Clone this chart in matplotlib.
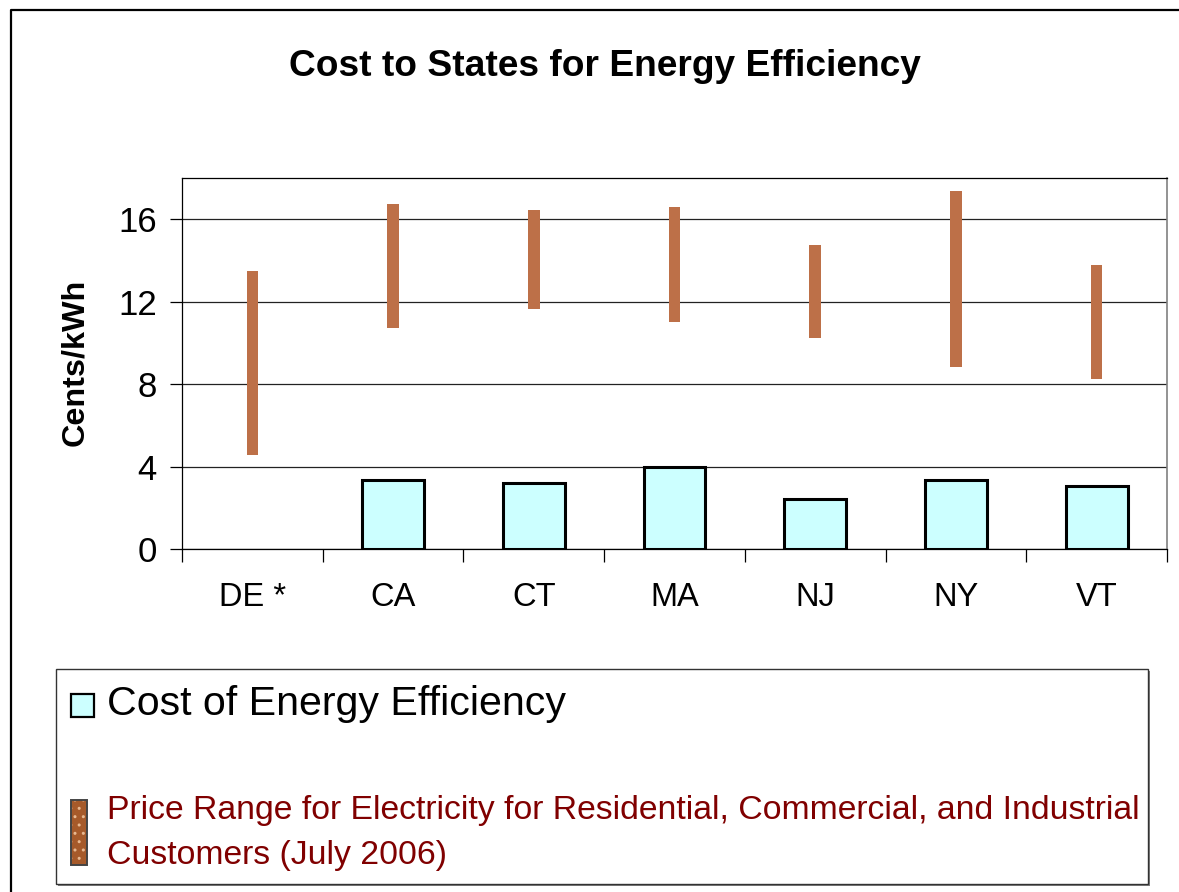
import numpy as np
import matplotlib
matplotlib.use("Agg")
import matplotlib.pyplot as plt
from matplotlib.patches import Rectangle
from matplotlib.lines import Line2D

# chart data
states = ["DE *", "CA", "CT", "MA", "NJ", "NY", "VT"]
ee_cost = [np.nan, 3.35, 3.2, 4.0, 2.45, 3.35, 3.05]
price_low = [4.55, 10.7, 11.65, 11.0, 10.25, 8.85, 8.25]
price_high = [13.5, 16.75, 16.45, 16.6, 14.75, 17.35, 13.8]
y_ticks = [0, 4, 8, 12, 16]

title = "Cost to States for Energy Efficiency"
y_label = "Cents/kWh"
legend_cost = "Cost of Energy Efficiency"
legend_price = ["Price Range for Electricity for Residential, Commercial, and Industrial",
                "Customers (July 2006)"]

W, H = 1179, 892
plt.rcParams["font.family"] = ["Liberation Sans", "DejaVu Sans"]


def fx(px):
    return px / W


def fy(py):
    return 1 - py / H


fig = plt.figure(figsize=(W / 100, H / 100), dpi=100)
fig.patch.set_facecolor("white")

# outer chart frame (only top and left visible)
fig.add_artist(Line2D([fx(11), fx(11), fx(W + 5)], [fy(H + 5), fy(10), fy(10)],
                      transform=fig.transFigure, color="black", lw=1.6))

ax = fig.add_axes([fx(182), fy(549), fx(1167) - fx(182), (549 - 178) / H])

x = np.arange(len(states))
cost = np.array(ee_cost)
has = ~np.isnan(cost)
ax.bar(x[has], cost[has], width=0.44, color="#CCFFFF", edgecolor="black",
       linewidth=2.2, zorder=3)

low = np.array(price_low)
high = np.array(price_high)
ax.bar(x, high - low, bottom=low, width=0.082, color="#BD7048",
       linewidth=0, zorder=3)

ax.set_xlim(-0.5, len(states) - 0.5)
ax.set_ylim(0, 18)
ax.set_yticks(y_ticks)
ax.set_yticklabels([str(t) for t in y_ticks])
ax.yaxis.grid(True, color="#222222", lw=0.9, zorder=1)
ax.set_axisbelow(True)

# category boundaries as major ticks, names on minor ticks
ax.set_xticks(np.arange(len(states) + 1) - 0.5)
ax.set_xticklabels([])
ax.set_xticks(x, minor=True)
ax.set_xticklabels(states, minor=True)
ax.tick_params(axis="x", which="major", direction="out", length=9, width=0.9)
ax.tick_params(axis="x", which="minor", length=0, pad=24, labelsize=23.5)
ax.tick_params(axis="y", direction="out", length=9, width=0.9, pad=9,
               labelsize=25)

for side in ["left", "bottom", "top"]:
    ax.spines[side].set_color("black")
    ax.spines[side].set_linewidth(0.9)
ax.spines["right"].set_color("#808080")
ax.spines["right"].set_linewidth(1.2)

fig.text(fx(605), fy(76), title, ha="center", va="baseline",
         fontsize=26.7, fontweight="bold")
fig.text(fx(75), fy(362), y_label, ha="center", va="center", rotation=90,
         fontsize=23.3, fontweight="bold")

# legend box
fig.add_artist(Rectangle((fx(58), fy(886)), fx(1150) - fx(58), (886 - 671) / H,
                         transform=fig.transFigure, facecolor="#808080",
                         edgecolor="none"))
fig.add_artist(Rectangle((fx(56), fy(884)), fx(1148) - fx(56), (884 - 669) / H,
                         transform=fig.transFigure, facecolor="white",
                         edgecolor="#333333", lw=1.0))

fig.add_artist(Rectangle((fx(71), fy(717)), 23 / W, 23 / H,
                         transform=fig.transFigure, facecolor="#CCFFFF",
                         edgecolor="black", lw=1.6))
fig.text(fx(107), fy(715), legend_cost, ha="left", va="baseline", fontsize=29.6)

fig.add_artist(Rectangle((fx(71), fy(865)), 16 / W, 65 / H,
                         transform=fig.transFigure, facecolor="#A65A2A",
                         edgecolor="#E8B890", hatch="..", lw=0))
fig.add_artist(Rectangle((fx(71), fy(865)), 16 / W, 65 / H,
                         transform=fig.transFigure, fill=False,
                         edgecolor="#444444", lw=1.4))
for line, base in zip(legend_price, [819, 864]):
    fig.text(fx(107), fy(base), line, ha="left", va="baseline",
             fontsize=24.35, color="#800000")

fig.savefig("out.png", dpi=100)
